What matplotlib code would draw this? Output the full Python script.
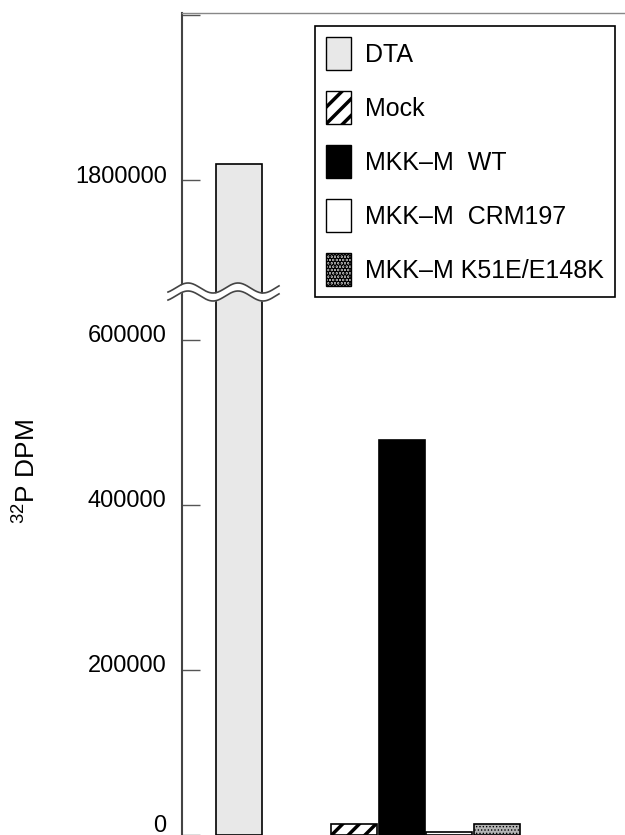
import matplotlib
matplotlib.use("Agg")
import matplotlib.pyplot as plt
import matplotlib.transforms as mtransforms
from matplotlib.patches import Patch
import numpy as np

plt.rcParams['font.family'] = ['Liberation Sans', 'DejaVu Sans']
plt.rcParams['mathtext.default'] = 'regular'
plt.rcParams['hatch.linewidth'] = 2.5

# ---------- data ----------
groups = ['DTA', 'Mock', 'MKK–M  WT', 'MKK–M  CRM197', 'MKK–M K51E/E148K']
dpm = [1820000, 13000, 479000, 4000, 13000]
x_pos = [0, 2.43, 3.43, 4.43, 5.43]
lower_ticks = [0, 200000, 400000, 600000]
upper_ticks = [1800000, 2000000]
upper_tick_labels = ['1800000', '']

# ---------- styles ----------
faces = ['#e8e8e8', 'white', 'black', 'white', '#b4b4b4']
hatches = [None, '//', None, None, '.....']
hatch_lw = [2.5, 2.5, 2.5, 2.5, 0.6]

W, H = 625, 835
fig = plt.figure(figsize=(W / 100, H / 100), dpi=100)
ax_lo = fig.add_axes([182 / W, 0, 443 / W, 540 / H])
ax_hi = fig.add_axes([182 / W, 540 / H, 443 / W, 282 / H])

for ax in (ax_lo, ax_hi):
    for i in range(len(groups)):
        with plt.rc_context({'hatch.linewidth': hatch_lw[i]}):
            ax.bar(x_pos[i], dpm[i], width=0.97, color=faces[i], hatch=hatches[i],
                   edgecolor='black', linewidth=1.2)
    ax.set_xlim(-1.2, 8.13)
    ax.set_xticks([])
    ax.spines['right'].set_visible(False)
    ax.spines['bottom'].set_visible(False)
    ax.spines['left'].set_color('#444444')
    ax.spines['left'].set_linewidth(1.5)
    ax.tick_params(axis='y', direction='in', length=13, width=1, color='#555555',
                   labelsize=17, pad=11)

ax_lo.spines['top'].set_visible(False)
ax_hi.spines['top'].set_color('#888888')
ax_hi.spines['top'].set_linewidth(1)

ax_lo.set_ylim(0, 654500)
ax_lo.set_yticks(lower_ticks)
ax_lo.set_yticklabels([str(t) for t in lower_ticks])
ax_hi.set_ylim(1661200, 2003000)
ax_hi.set_yticks(upper_ticks)
ax_hi.set_yticklabels(upper_tick_labels)

# labels sit a bit above their ticks in the original (the 0 one more so)
for ax in (ax_lo, ax_hi):
    for lab in ax.get_yticklabels():
        dy = 12 if lab.get_text() == '0' else 6
        shift = mtransforms.ScaledTranslation(0, dy / 100, fig.dpi_scale_trans)
        lab.set_transform(lab.get_transform() + shift)

fig.text(27 / W, 1 - 472 / H, r'$^{32}$P DPM', rotation=90, ha='center', va='center',
         fontsize=19)

# ---------- legend ----------
handles = []
for i in range(len(groups)):
    with plt.rc_context({'hatch.linewidth': hatch_lw[i]}):
        handles.append(Patch(facecolor=faces[i], edgecolor='black', hatch=hatches[i], lw=1))
leg = fig.legend(handles, groups, loc='upper left', bbox_to_anchor=(315 / W, 1 - 26 / H),
                 borderaxespad=0, fontsize=18, handlelength=1.0, handleheight=1.65,
                 labelspacing=0.84, handletextpad=0.56, borderpad=0.45,
                 fancybox=False, edgecolor='black', framealpha=1)
leg.get_frame().set_linewidth(1.2)

# ---------- axis break ----------
ov = fig.add_axes([0, 0, 1, 1], zorder=5)
ov.set_xlim(0, W)
ov.set_ylim(H, 0)
ov.axis('off')
ov.patch.set_alpha(0)
xs = np.linspace(168, 279, 200)
top = 288 - 5 * np.cos(2 * np.pi * (xs - 188) / 50)
bot = top + 8
ov.fill_between(xs, top, bot, color='white', lw=0)
ov.plot(xs, top, color='#444444', lw=1.2)
ov.plot(xs, bot, color='#444444', lw=1.2)

fig.savefig('out.png', dpi=100, facecolor='white')
